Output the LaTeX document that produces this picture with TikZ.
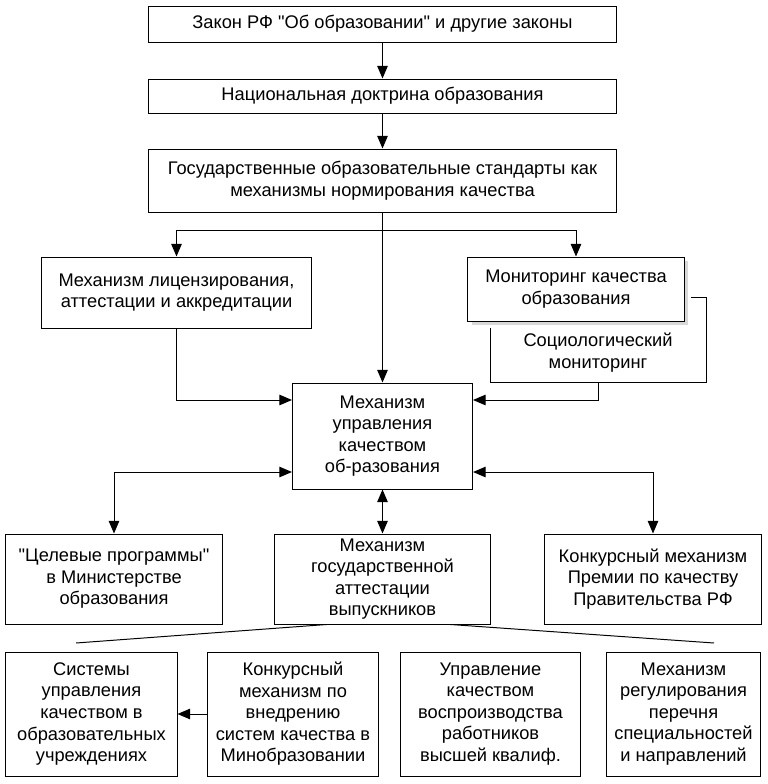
\documentclass[tikz,border=0pt]{standalone}
\usepackage{fontspec}
\setmainfont{Liberation Sans}[Ligatures=TeXOff]
\usetikzlibrary{arrows.meta}
\usetikzlibrary{shadows}

\tikzset{
  blok/.style={draw, fill=white, align=center, inner sep=2pt,
               font=\fontsize{13}{15.3}\selectfont},
  nadpis/.style={align=center, inner sep=2pt, font=\fontsize{13}{15.3}\selectfont},
  strelka/.style={-{Triangle[length=9pt,width=7.5pt]}},
  dvestrelki/.style={{Triangle[length=9pt,width=7.5pt]}-{Triangle[length=9pt,width=7.5pt]}},
  ten/.style={drop shadow={fill=black!30, opacity=0.5, shadow xshift=3pt, shadow yshift=-3pt}}
}

\begin{document}
\begin{tikzpicture}[x=0.025cm, y=-0.025cm, line width=0.7pt]
   \useasboundingbox (0,0) rectangle (768,784);

   % verhnii stolbec
   \node [blok, minimum width=11.675cm, minimum height=0.9cm  ] (zakon)    at (382.5, 24)  {Закон РФ "Об образовании" и другие законы};
   \node [blok, minimum width=11.675cm, minimum height=0.85cm ] (doktrina) at (382.5, 96)  {Национальная доктрина образования};
   \node [blok, minimum width=11.675cm, minimum height=1.575cm] (standart) at (382.5, 180.5) {Государственные образовательные стандарты как\\механизмы нормирования качества};

   % vtoroi uroven
   \node [blok, minimum width=6.725cm, minimum height=1.775cm] (licenz)  at (176.5, 292.5) {Механизм лицензирования,\\аттестации и аккредитации};
   \node [blok, ten, minimum width=5.4cm, minimum height=1.6cm] (monitor) at (576, 289) {Мониторинг качества\\образования};
   \node [nadpis] (socio) at (598, 352.5) {Социологический\\мониторинг};

   \node [blok, minimum width=4.5cm, minimum height=2.65cm] (upravl) at (382.5, 436) {Механизм\\управления\\качеством\\об-разования};

   % tretii uroven
   \node [blok, minimum width=5.4cm,   minimum height=2.25cm] (celprog) at (114, 579)   {"Целевые программы"\\в Министерстве\\образования};
   \node [blok, minimum width=5.375cm, minimum height=2.25cm] (attest)  at (382.5, 579) {Механизм\\государственной\\аттестации\\выпускников};
   \node [blok, minimum width=5.4cm,   minimum height=2.25cm] (konkurs) at (653, 579)   {Конкурсный механизм\\Премии по качеству\\Правительства РФ};

   % nizhnii riad
   \node [blok, minimum width=4.275cm, minimum height=3.1cm] (sistemy)   at (91.5, 714)  {Системы\\управления\\качеством в\\образовательных\\учреждениях};
   \node [blok, minimum width=4.25cm,  minimum height=3.1cm] (vnedr)     at (293, 714)   {Конкурсный\\механизм по\\внедрению\\систем качества в\\Минобразовании};
   \node [blok, minimum width=4.475cm, minimum height=3.1cm] (vosproizv) at (490.5, 714) {Управление\\качеством\\воспроизводства\\работников\\высшей квалиф.};
   \node [blok, minimum width=3.825cm, minimum height=3.1cm] (regul)     at (683.5, 714) {Механизм\\регулирования\\перечня\\специальностей\\и направлений};

   % strelki
   \draw [strelka] (zakon) -- (doktrina);
   \draw [strelka] (doktrina) -- (standart);
   \draw [strelka] (standart) -- (upravl);

   \coordinate (razv) at (382.5, 230);
   \draw [strelka] (razv) -| (licenz);
   \draw [strelka] (razv) -| (monitor);

   \coordinate (s1) at (691, 297);
   \coordinate (s2) at (706, 297);
   \coordinate (s3) at (706, 382);
   \coordinate (s4) at (490, 382);
   \coordinate (s5) at (490, 328);
   \draw (s1) -- (s2) -- (s3) -- (s4) -- (s5);
   \coordinate (sniz) at (598, 382);

   \draw [strelka] (licenz) |- ([yshift=0.9cm]upravl.west);
   \draw [strelka] (sniz) |- ([yshift=0.9cm]upravl.east);

   \draw [dvestrelki] ([yshift=-0.9cm]upravl.west) -| (celprog);
   \draw [dvestrelki] ([yshift=-0.9cm]upravl.east) -| (konkurs);
   \draw [dvestrelki] (upravl) -- (attest);

   \coordinate (veerL) at (76, 643);
   \coordinate (veerR) at (714, 643);
   \draw (veerL) -- ([xshift=-1.4cm]attest.south);
   \draw ([xshift=1.7cm]attest.south) -- (veerR);

   \draw [strelka] (vnedr) -- (sistemy);
\end{tikzpicture}
\end{document}
